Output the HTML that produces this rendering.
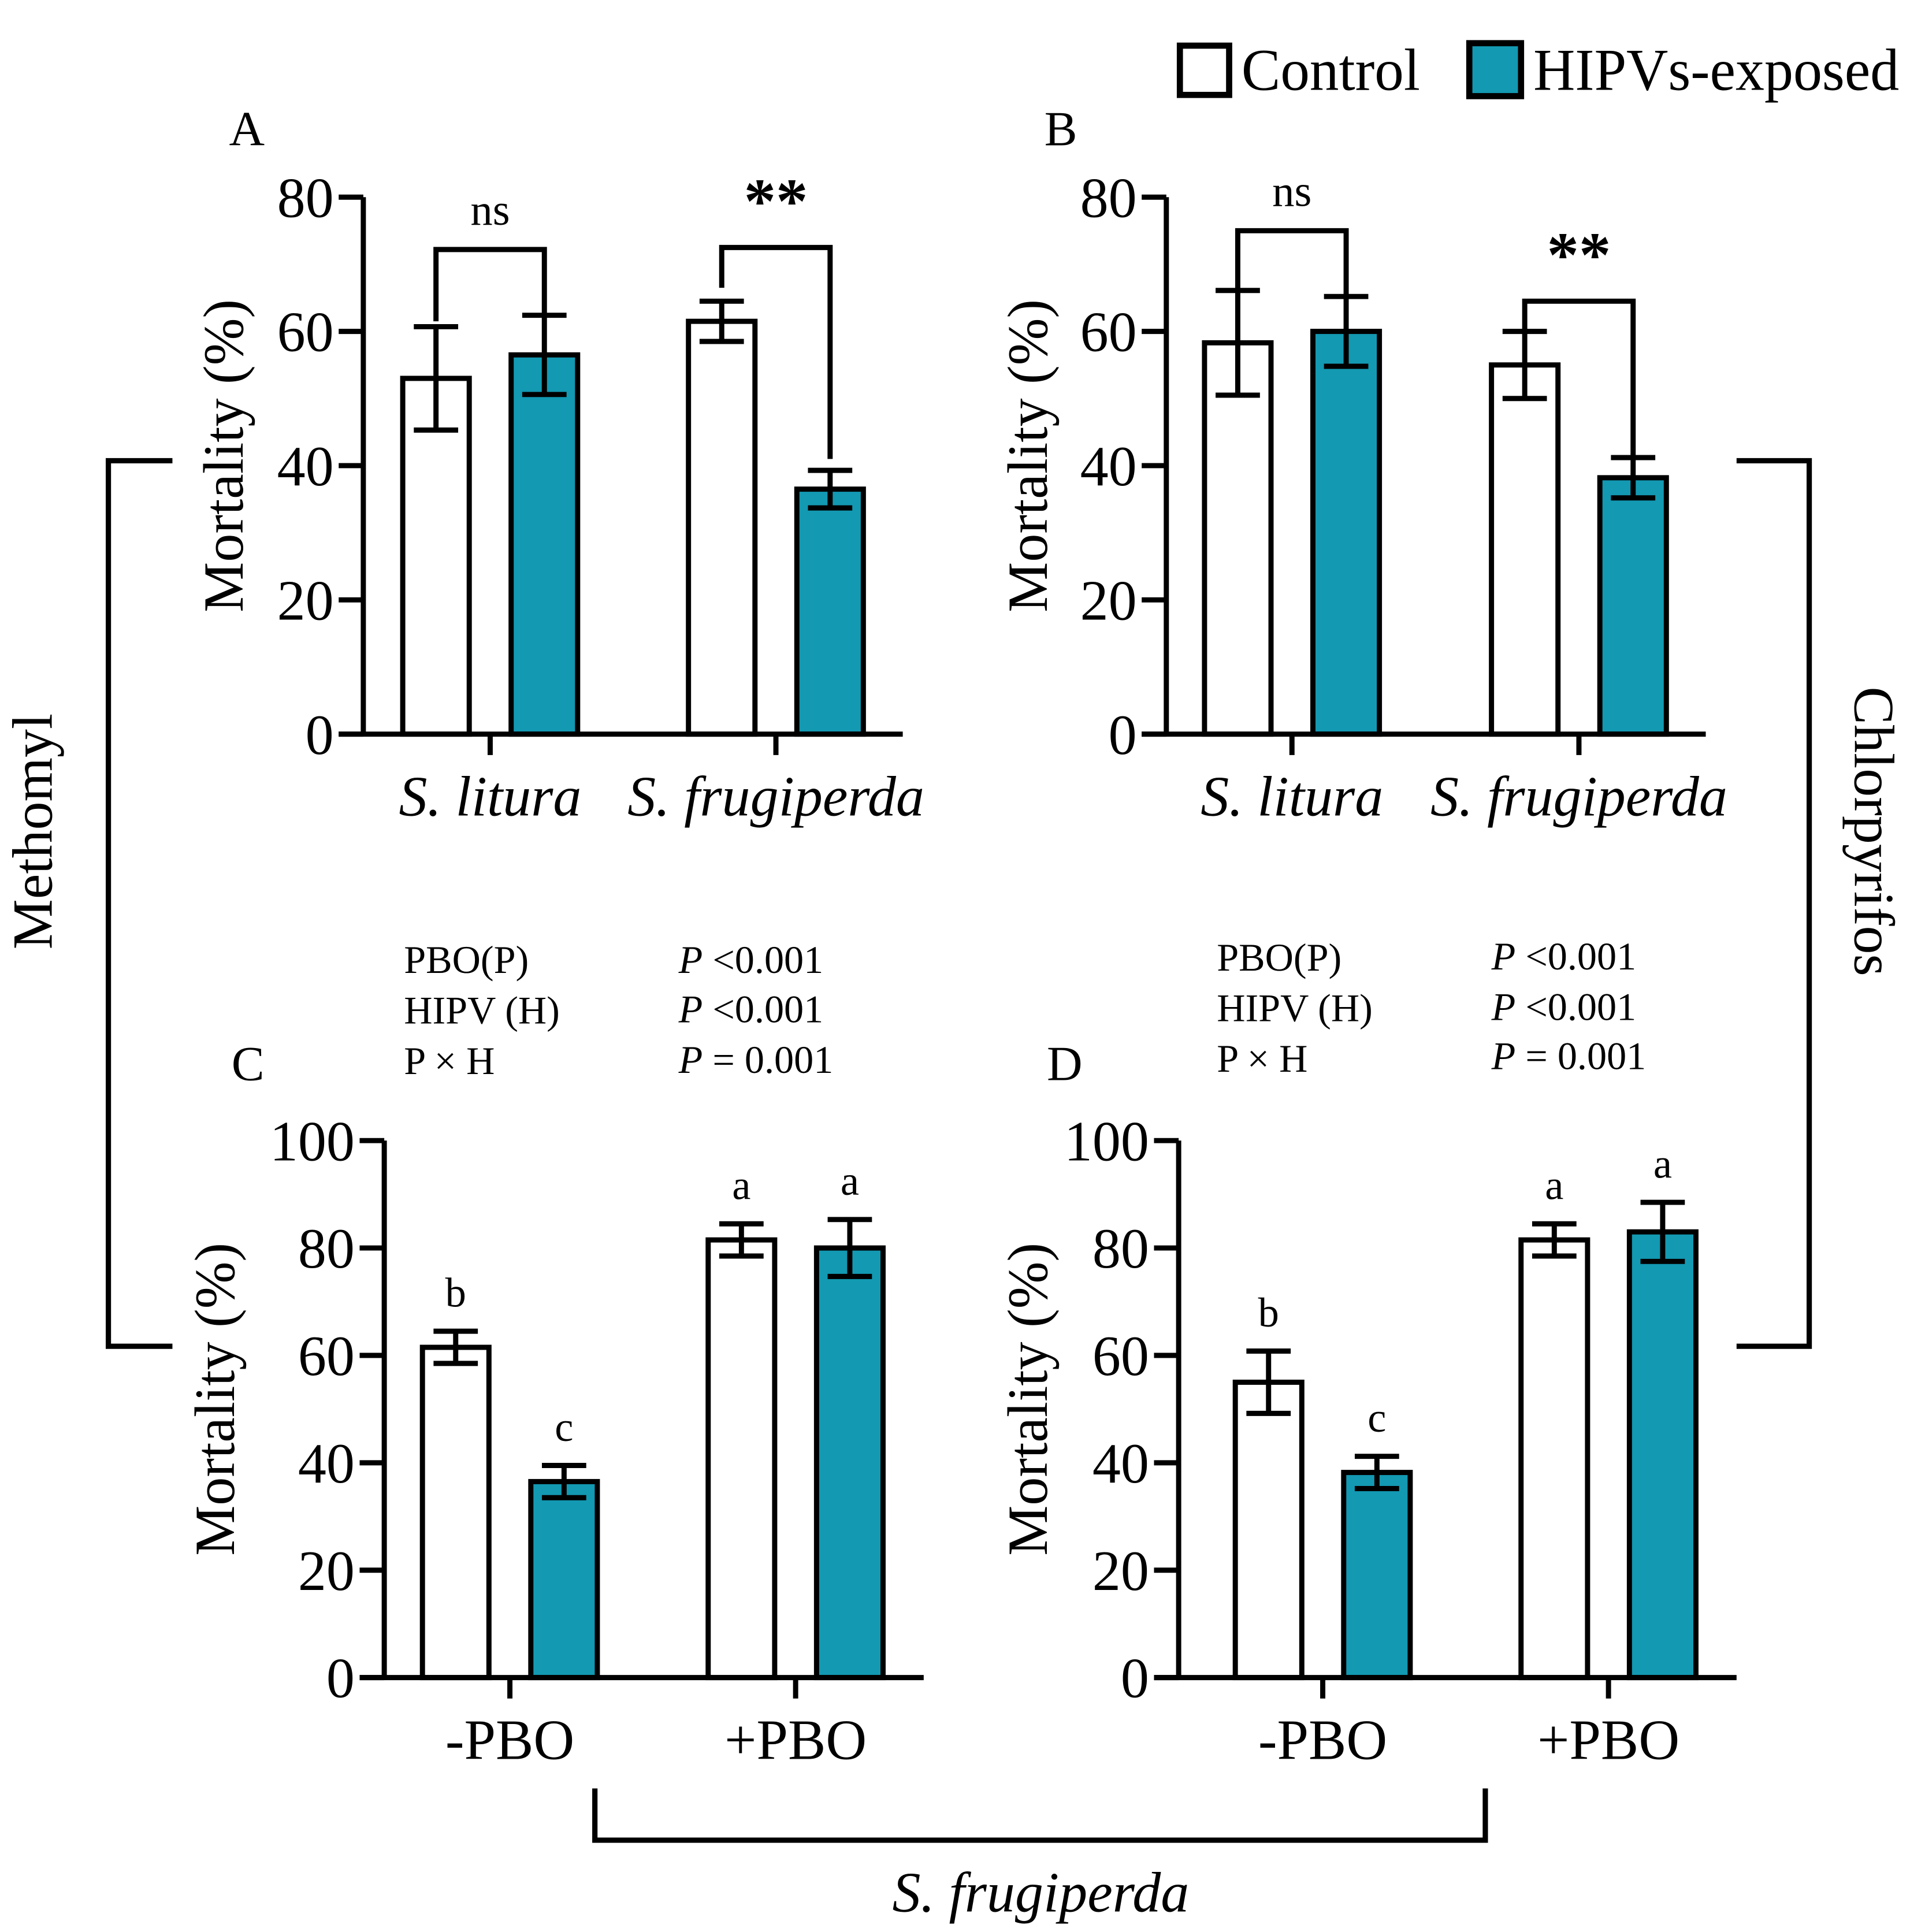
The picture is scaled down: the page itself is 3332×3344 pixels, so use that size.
<!DOCTYPE html>
<html><head><meta charset="utf-8"><style>
html,body{margin:0;padding:0;background:#fff}
svg{display:block}
text{font-family:"Liberation Serif",serif;fill:#000}
</style></head><body>
<svg id="fig" xmlns="http://www.w3.org/2000/svg" width="3332" height="3344" viewBox="0 0 1563 1568.5">
<rect width="1563" height="1568.5" fill="#fff"/>
<g>
 <rect x="958" y="37" width="40" height="40" fill="#fff" stroke="#000" stroke-width="5"/>
 <text x="1008" y="73" font-size="48" textLength="145" lengthAdjust="spacingAndGlyphs">Control</text>
 <rect x="1193" y="35" width="42" height="43" fill="#1399b2" stroke="#000" stroke-width="5"/>
 <text x="1245" y="73" font-size="48" textLength="297" lengthAdjust="spacingAndGlyphs">HIPVs-exposed</text>
</g>
<g id="plots"></g>
<g fill="none" stroke="#000" stroke-width="4.3">
 <polyline points="140,374 88,374 88,1093 140,1093"/>
 <polyline points="1410,374 1469,374 1469,1093 1410,1093"/>
 <polyline points="483,1452 483,1494 1206,1494 1206,1452"/>
</g>
<text font-size="46" text-anchor="middle" transform="translate(42,675) rotate(-90)">Methomyl</text>
<text font-size="46" text-anchor="middle" transform="translate(1506,675) rotate(90)">Chlorpyrifos</text>
<text font-size="46" font-style="italic" text-anchor="middle" x="845" y="1552">S. frugiperda</text>
<g font-size="32">
 <text x="328" y="790">PBO(P)</text><text x="328" y="831">HIPV (H)</text><text x="328" y="872">P × H</text>
 <text x="551" y="790"><tspan font-style="italic">P</tspan>  &lt;0.001</text>
 <text x="551" y="830"><tspan font-style="italic">P</tspan>  &lt;0.001</text>
 <text x="551" y="871"><tspan font-style="italic">P</tspan> = 0.001</text>
</g>
<g font-size="32">
 <text x="988" y="788">PBO(P)</text><text x="988" y="829">HIPV (H)</text><text x="988" y="870">P × H</text>
 <text x="1211" y="787"><tspan font-style="italic">P</tspan>  &lt;0.001</text>
 <text x="1211" y="828"><tspan font-style="italic">P</tspan>  &lt;0.001</text>
 <text x="1211" y="868"><tspan font-style="italic">P</tspan> = 0.001</text>
</g>
<script>
const catsAB = ["S. litura", "S. frugiperda"];
const catsCD = ["-PBO", "+PBO"];
const ticksAB = [0, 20, 40, 60, 80];
const ticksCD = [0, 20, 40, 60, 80, 100];
const ctrlA = [53, 61.5];
const hipvA = [56.5, 36.5];
const ctrlAErr = [7.7, 3];
const hipvAErr = [5.9, 2.8];
const ctrlB = [58.3, 55];
const hipvB = [60, 38.2];
const ctrlBErr = [7.8, 5];
const hipvBErr = [5.2, 3];
const ctrlC = [61.5, 81.5];
const hipvC = [36.5, 80];
const ctrlCErr = [3, 3];
const hipvCErr = [3, 5.3];
const lettersCtrlC = ["b", "a"];
const lettersHipvC = ["c", "a"];
const ctrlD = [55, 81.5];
const hipvD = [38.2, 83];
const ctrlDErr = [5.8, 3];
const hipvDErr = [3, 5.5];
const lettersCtrlD = ["b", "a"];
const lettersHipvD = ["c", "a"];

const NS = "http://www.w3.org/2000/svg";
const root = document.getElementById("plots");
function mk(tag, attrs, parent) {
  const e = document.createElementNS(NS, tag);
  for (const k in attrs) e.setAttribute(k, attrs[k]);
  parent.appendChild(e);
  return e;
}
function panel(cfg) {
  const g = mk("g", {}, root);
  
  
  const ymax = cfg.ticks[cfg.ticks.length - 1];
  const y = v => cfg.y0 - (cfg.y0 - cfg.yTop) * v / ymax;
  const sw = 4.2;
  for (let i = 0; i < cfg.cats.length; i++) {
    const c = cfg.groupX[i];
    [[cfg.ctrl, cfg.ctrlErr, "#fff", -44, "control"], [cfg.hipv, cfg.hipvErr, "#1399b2", 44, "hipv"]].forEach(s => {
      const v = s[0][i], e = s[1][i], cx = c + s[3];
      const b = mk("rect", {x: cx - 27, y: y(v), width: 54, height: cfg.y0 - y(v), fill: s[2], stroke: "#000", "stroke-width": sw}, g);
      
      
      const eb = mk("path", {d: `M${cx},${y(v+e)}V${y(v-e)}M${cx-18},${y(v+e)}H${cx+18}M${cx-18},${y(v-e)}H${cx+18}`, stroke: "#000", "stroke-width": sw, fill: "none"}, g);
      
      
    });
    const tk = mk("line", {x1: c, x2: c, y1: cfg.y0, y2: cfg.y0 + 17, stroke: "#000", "stroke-width": sw}, g);
    
    
    const lb = mk("text", {x: c, y: cfg.y0 + 66, "font-size": 46, "text-anchor": "middle", "font-style": cfg.italic ? "italic" : "normal"}, g);
    lb.textContent = cfg.cats[i];
    
    
  }
  const ax = mk("path", {d: `M${cfg.ax},${cfg.yTop}V${cfg.y0}M${cfg.ax-20},${cfg.y0}H${cfg.xEnd}`, stroke: "#000", "stroke-width": sw, fill: "none"}, g);
  
  
  cfg.ticks.forEach(t => {
    const l = mk("line", {x1: cfg.ax - 20, x2: cfg.ax, y1: y(t), y2: y(t), stroke: "#000", "stroke-width": sw}, g);
    
    
    const tx = mk("text", {x: cfg.ax - 24, y: y(t) + 16, "font-size": 46, "text-anchor": "end"}, g);
    tx.textContent = t;
    
    
  });
  const yt = mk("text", {"font-size": 46, "text-anchor": "middle", transform: `translate(${cfg.ax + cfg.titleOff},${(cfg.y0 + cfg.yTop) / 2 - 8}) rotate(-90)`}, g);
  yt.textContent = "Mortality (%)";
  
  
  const pl = mk("text", {x: cfg.letterPos[0], y: cfg.letterPos[1], "font-size": 40}, g);
  pl.textContent = cfg.id;
  
  
  if (cfg.brackets) {
    cfg.brackets.forEach((bk, i) => {
      const c = cfg.groupX[i];
      const lx = c - 44, rx = c + 44;
      const p = mk("path", {d: `M${lx},${y(bk.l)}V${y(bk.top)}H${rx}V${y(bk.r)}`, stroke: "#000", "stroke-width": sw, fill: "none"}, g);
      
      
      const t = mk("text", {x: c, y: y(bk.top) - 20, "font-size": bk.label === "ns" ? 36 : 52, "font-weight": bk.label === "ns" ? "normal" : "bold", "text-anchor": "middle"}, g);
      t.textContent = bk.label;
      
      
    });
  }
  if (cfg.lc) {
    for (let i = 0; i < cfg.cats.length; i++) {
      [[cfg.ctrl, cfg.ctrlErr, cfg.lc, -44], [cfg.hipv, cfg.hipvErr, cfg.lh, 44]].forEach(s => {
        const t = mk("text", {x: cfg.groupX[i] + s[3], y: y(s[0][i] + s[1][i]) - 20, "font-size": 34, "text-anchor": "middle"}, g);
        t.textContent = s[2][i];
        
        
      });
    }
  }
}
panel({id: "A", cats: catsAB, ticks: ticksAB, ctrl: ctrlA, hipv: hipvA, ctrlErr: ctrlAErr, hipvErr: hipvAErr,
  ax: 295, y0: 596, yTop: 160, xEnd: 733, groupX: [398, 630], italic: true, letterPos: [186, 118], titleOff: -98,
  brackets: [{l: 61.5, r: 62.5, top: 72.2, label: "ns"}, {l: 66.5, r: 41, top: 72.5, label: "**"}]});
panel({id: "B", cats: catsAB, ticks: ticksAB, ctrl: ctrlB, hipv: hipvB, ctrlErr: ctrlBErr, hipvErr: hipvBErr,
  ax: 947, y0: 596, yTop: 160, xEnd: 1385, groupX: [1049, 1282], italic: true, letterPos: [848, 118], titleOff: -97,
  brackets: [{l: 66, r: 65.2, top: 75, label: "ns"}, {l: 60, r: 41, top: 64.5, label: "**"}]});
panel({id: "C", cats: catsCD, ticks: ticksCD, ctrl: ctrlC, hipv: hipvC, ctrlErr: ctrlCErr, hipvErr: hipvCErr,
  ax: 312, y0: 1362, yTop: 926, xEnd: 750, groupX: [414, 646], italic: false, letterPos: [188, 877], titleOff: -122,
  lc: lettersCtrlC, lh: lettersHipvC});
panel({id: "D", cats: catsCD, ticks: ticksCD, ctrl: ctrlD, hipv: hipvD, ctrlErr: ctrlDErr, hipvErr: hipvDErr,
  ax: 957, y0: 1362, yTop: 926, xEnd: 1410, groupX: [1074, 1306], italic: false, letterPos: [850, 877], titleOff: -107,
  lc: lettersCtrlD, lh: lettersHipvD});
</script>
</svg>
</body></html>
